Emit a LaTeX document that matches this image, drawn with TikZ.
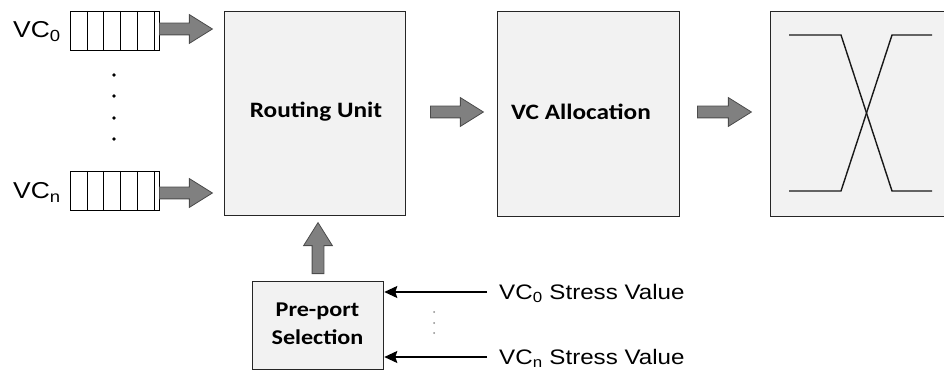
\documentclass[tikz,border=0pt]{standalone}
\usepackage{fontspec}
\setmainfont{Liberation Sans}
\newfontfamily\calfont{Carlito}
\usetikzlibrary{shapes.arrows,arrows.meta}
\newcommand\hs[1]{\scalebox{1.15}[1]{#1}}
\begin{document}
\begin{tikzpicture}[x=1pt,y=-1pt,
  box/.style={draw=black!85, line width=1.3pt, fill=black!5, inner sep=0pt, anchor=north west},
  boldlbl/.style={font=\calfont\bfseries\fontsize{22}{28}\selectfont},
  queue/.style={draw=black, line width=1pt, fill=white, inner sep=0pt, anchor=north west, minimum width=89pt, minimum height=39pt},
  blk/.style={single arrow, draw=black!70, fill=black!50, line width=0.8pt, minimum width=0pt,
     single arrow head extend=8.5pt, single arrow tip angle=64, inner xsep=0pt, inner ysep=5.5pt, anchor=tail},
  thinarrow/.style={line width=1.3pt, -{Stealth[length=13pt,width=12pt,inset=2pt]}},
  vclbl/.style={anchor=base west, inner sep=0pt, font=\fontsize{23}{28}\selectfont},
  stresslbl/.style={anchor=base west, inner sep=0pt, font=\fontsize{21}{26}\selectfont},
  xline/.style={line width=1.4pt, black!90}
]
\useasboundingbox (0,0) rectangle (944,371);

% main boxes
\node[box, minimum width=181pt, minimum height=204pt] (ru) at (224,11) {};
\node[boldlbl] (rut) at (316,112) {\hs{Routing Unit}};
\node[box, minimum width=182pt, minimum height=205pt] (va) at (497,11) {};
\node[boldlbl] (vat) at (581,112) {\hs{VC Allocation}};
\node[box, minimum width=200pt, minimum height=205pt] (xb) at (770,11) {};
\node[box, minimum width=131pt, minimum height=88pt] (pre) at (252,281) {};
\node[font=\calfont\bfseries\fontsize{21}{28}\selectfont, align=center] (pret) at (317.5,324)
  {\hs{Pre-port}\\\hs{Selection}};

% crossbar lines
\coordinate (c1) at (789,35); \coordinate (c2) at (841,35);
\coordinate (c3) at (892,191); \coordinate (c4) at (932,191);
\coordinate (d1) at (789,191); \coordinate (d2) at (841,191);
\coordinate (d3) at (892,35); \coordinate (d4) at (932,35);
\draw[xline] (c1) -- (c2) -- (c3) -- (c4);
\draw[xline] (d1) -- (d2) -- (d3) -- (d4);

% queues
\node[queue] (q0) at (70,11) {};
\node[queue] (qn) at (70,171) {};
\foreach \x in {87,103,120,137,154} {
  \draw[line width=1pt] (\x,11) -- (\x,50);
  \draw[line width=1pt] (\x,171) -- (\x,210);
}
\node[vclbl] (v0) at (13,38) {\hs{VC\textsubscript{0}}};
\node[vclbl] (vn) at (13,199) {\hs{VC\textsubscript{n}}};
\foreach \y in {75,96,118,139} \fill (114,\y) circle (1.8pt);

% block arrows
\node[blk, minimum height=53pt] (a0) at (159,29) {};
\node[blk, minimum height=53pt] (an) at (159,193) {};
\node[blk, minimum height=53pt] (a1) at (430,112) {};
\node[blk, minimum height=54pt] (a2) at (697,112) {};
\node[blk, minimum height=51pt, rotate=90] (au) at (318,274) {};

% stress inputs
\coordinate (s0) at (487,292);
\coordinate (sn) at (487,357);
\draw[thinarrow] (s0) -- (pre.east |- s0);
\draw[thinarrow] (sn) -- (pre.east |- sn);
\node[stresslbl] (l0) at (499,299) {\hs{VC\textsubscript{0} Stress Value}};
\node[stresslbl] (ln) at (499,364) {\hs{VC\textsubscript{n} Stress Value}};
\foreach \y in {312,323,333} \fill[black!45] (434,\y) circle (1pt);
\end{tikzpicture}
\end{document}
